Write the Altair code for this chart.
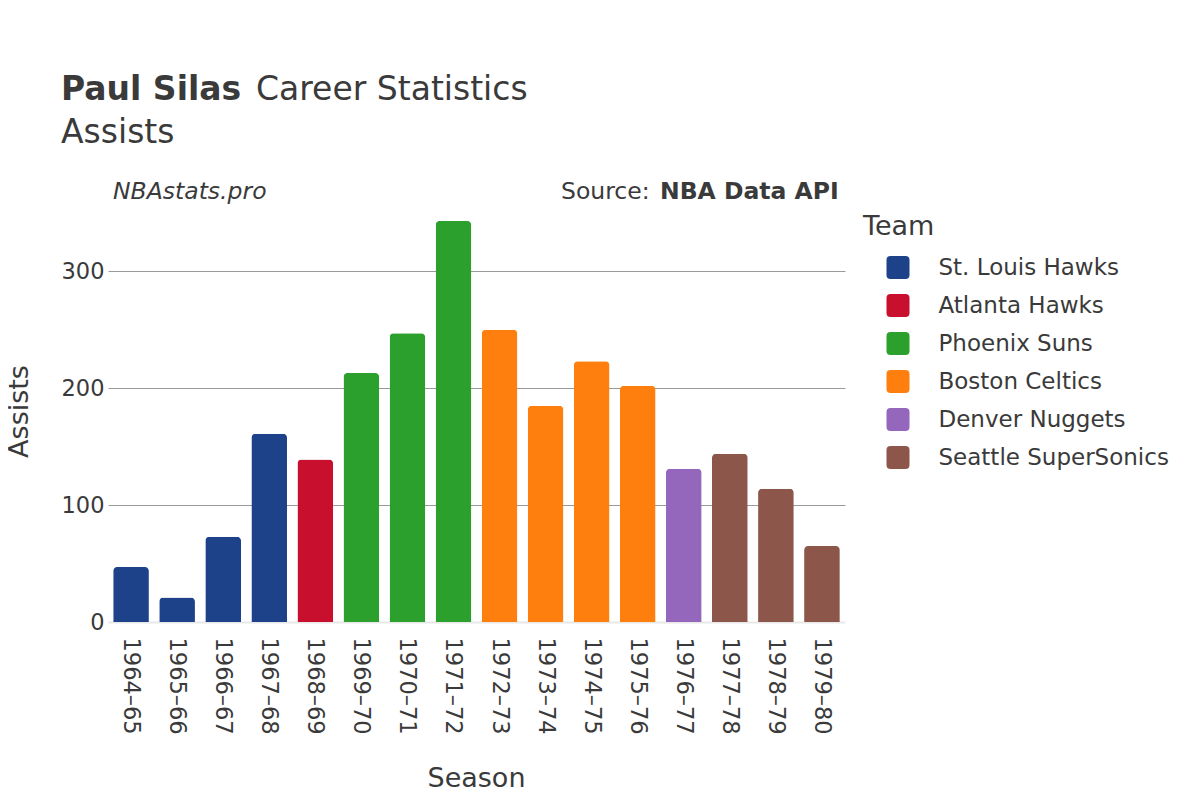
import altair as alt
import pandas as pd

seasons = ["1964–65", "1965–66", "1966–67", "1967–68", "1968–69", "1969–70",
           "1970–71", "1971–72", "1972–73", "1973–74", "1974–75", "1975–76",
           "1976–77", "1977–78", "1978–79", "1979–80"]
teams = ["St. Louis Hawks", "St. Louis Hawks", "St. Louis Hawks", "St. Louis Hawks",
         "Atlanta Hawks", "Phoenix Suns", "Phoenix Suns", "Phoenix Suns",
         "Boston Celtics", "Boston Celtics", "Boston Celtics", "Boston Celtics",
         "Denver Nuggets", "Seattle SuperSonics", "Seattle SuperSonics", "Seattle SuperSonics"]
assists = [47, 21, 73, 161, 139, 213, 247, 343, 250, 185, 223, 202, 131, 144, 114, 65]

team_order = ["St. Louis Hawks", "Atlanta Hawks", "Phoenix Suns", "Boston Celtics",
              "Denver Nuggets", "Seattle SuperSonics"]
team_colors = ["#1d428a", "#c8102e", "#2ca02c", "#ff7f0e", "#9467bd", "#8c564b"]
y_ticks = [0, 100, 200, 300]

df = pd.DataFrame({"Season": seasons, "Team": teams, "Assists": assists})

FONT = "DejaVu Sans"
TXT = "#3a3a3a"
rounded_square = ("M-0.65,-1 L0.65,-1 Q1,-1 1,-0.65 L1,0.65 Q1,1 0.65,1 "
                  "L-0.65,1 Q-1,1 -1,0.65 L-1,-0.65 Q-1,-1 -0.65,-1 Z")

bars = alt.Chart(df).mark_bar(cornerRadiusTopLeft=4, cornerRadiusTopRight=4).encode(
    x=alt.X("Season:N", sort=seasons,
            scale=alt.Scale(paddingInner=0.225, paddingOuter=0.1125),
            axis=alt.Axis(title="Season", labelAngle=90, labelPadding=15, ticks=False,
                          tickSize=0, domain=False, labelFontSize=22.5,
                          titleFontSize=27, titleFontWeight="normal",
                          titleX=368, titleY=156, titleBaseline="middle",
                          labelColor=TXT, titleColor=TXT, labelFont=FONT, titleFont=FONT)),
    y=alt.Y("Assists:Q", scale=alt.Scale(domain=[0, 361], nice=False),
            axis=alt.Axis(title="Assists", values=y_ticks, ticks=False, tickSize=0,
                          domain=False, labelPadding=4, labelFontSize=22.5,
                          titleFontSize=27, titleFontWeight="normal",
                          titleAngle=-90, titleX=-89, titleY=211,
                          titleAlign="center", titleBaseline="middle",
                          gridColor=alt.condition("datum.value === 0", alt.value("#e8e8e8"), alt.value("#9a9a9a")),
                          gridWidth=alt.condition("datum.value === 0", alt.value(2), alt.value(1)),
                          labelColor=TXT, titleColor=TXT, labelFont=FONT, titleFont=FONT)),
    color=alt.Color("Team:N", scale=alt.Scale(domain=team_order, range=team_colors),
                    legend=alt.Legend(title="Team", orient="none", legendX=755, legendY=14,
                                      titleFontSize=27, titleFontWeight="normal",
                                      titleColor=TXT, titleFont=FONT, titlePadding=15,
                                      labelFontSize=23, labelColor=TXT, labelFont=FONT,
                                      labelLimit=400,
                                      symbolType=rounded_square, symbolSize=529,
                                      symbolStrokeWidth=0, symbolOffset=23.5,
                                      labelOffset=29, rowPadding=14, padding=0)),
)

def txt(text, x, y, size, weight="normal", style="normal", align="left"):
    return alt.Chart(alt.Data(values=[{}])).mark_text(
        text=text, font=FONT, fontSize=size, fontWeight=weight, fontStyle=style,
        color=TXT, align=align, baseline="alphabetic"
    ).encode(x=alt.value(x), y=alt.value(y))

chart = alt.layer(
    bars,
    txt("Paul Silas", -47, -100, 33, weight="bold"),
    txt("Career Statistics", 148, -100, 33),
    txt("Assists", -47, -57, 33),
    txt("NBAstats.pro", 5, -1, 23.5, style="italic"),
    txt("Source:", 453, -1, 23.5),
    txt("NBA Data API", 552, -1, 23.5, weight="bold"),
).properties(
    width=737, height=422,
    autosize=alt.AutoSizeParams(type="none"),
    padding={"left": 100, "top": 192, "right": 347, "bottom": 170},
    background="white",
).configure_view(stroke=None)

chart.save("out.html", embed_options={"renderer": "svg", "actions": False})
